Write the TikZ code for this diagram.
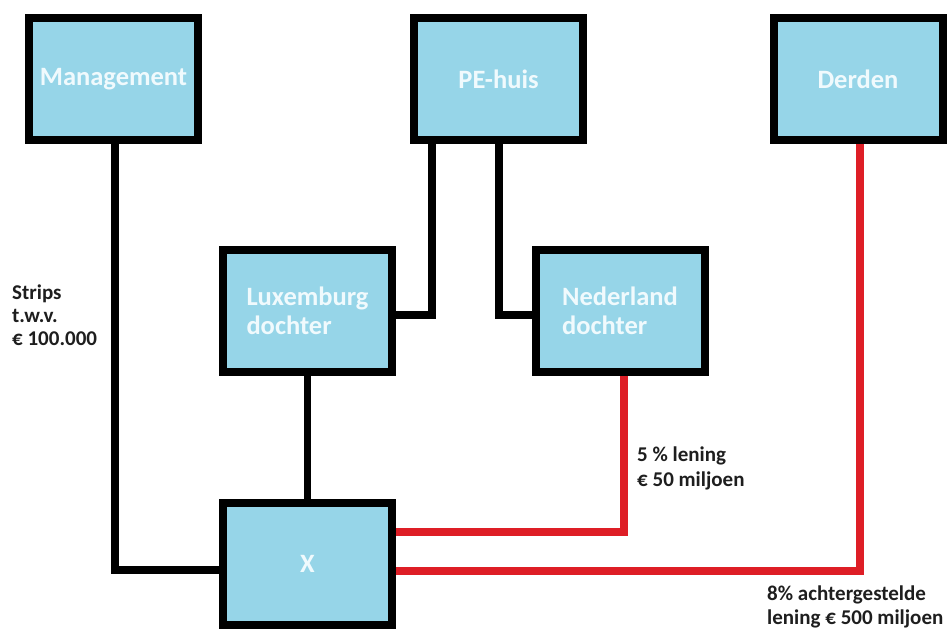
\documentclass[tikz,border=0pt]{standalone}
\usepackage{fontspec}
\setmainfont{Carlito}
\definecolor{boxblue}{RGB}{150,213,232}
\definecolor{boxtext}{RGB}{240,250,253}
\definecolor{loanred}{RGB}{222,30,38}
\definecolor{labeltext}{RGB}{30,30,30}
\begin{document}
\begin{tikzpicture}[x=1pt,y=-1pt,
  box/.style={draw=black,line width=8pt,fill=boxblue,minimum width=169pt,minimum height=122pt,inner sep=0pt,text=boxtext,font=\fontsize{26.5}{29}\selectfont\bfseries,align=left},
  conn/.style={line width=7.5pt,draw=black},
  loan/.style={line width=7.5pt,draw=loanred},
  lbl/.style={anchor=north west,inner sep=0pt,align=left,text=labeltext}]
\useasboundingbox[fill=white] (0,0) rectangle (952,630);

\node[box] (mg) at (113.5,79) {Management};
\node[box] (pe) at (498.5,79) {PE-huis};
\node[box] (de) at (858,79) {Derden};
\node[box] (lu) at (307.5,310.5) {Luxemburg\\dochter};
\node[box] (ne) at (620,311) {Nederland\\dochter};
\node[box] (x) at (307.5,563.5) {X};

\coordinate (c1) at (115,570);
\coordinate (c2) at (432,315);
\coordinate (c3) at (499,315);
\coordinate (c4) at (624,532);
\coordinate (c5) at (860,571);

\draw[conn] (mg.south -| c1) -- (c1) -- (x.west |- c1);
\draw[conn] (pe.south -| c2) -- (c2) -- (lu.east |- c2);
\draw[conn] (pe.south -| c3) -- (c3) -- (ne.west |- c3);
\draw[conn] (lu.south) -- (x.north);
\draw[loan] (ne.south -| c4) -- (c4) -- (x.east |- c4);
\draw[loan] (de.south -| c5) -- (c5) -- (x.east |- c5);

\node[lbl,font=\fontsize{21}{23}\selectfont\bfseries] (strips) at (12,285) {Strips\\t.w.v.\\€ 100.000};
\node[lbl,font=\fontsize{21}{25}\selectfont\bfseries] (l5) at (637,447) {5 \% lening\\€ 50 miljoen};
\node[lbl,font=\fontsize{21}{24}\selectfont\bfseries] (l8) at (767,586) {8\% achtergestelde\\lening € 500 miljoen};
\end{tikzpicture}
\end{document}
